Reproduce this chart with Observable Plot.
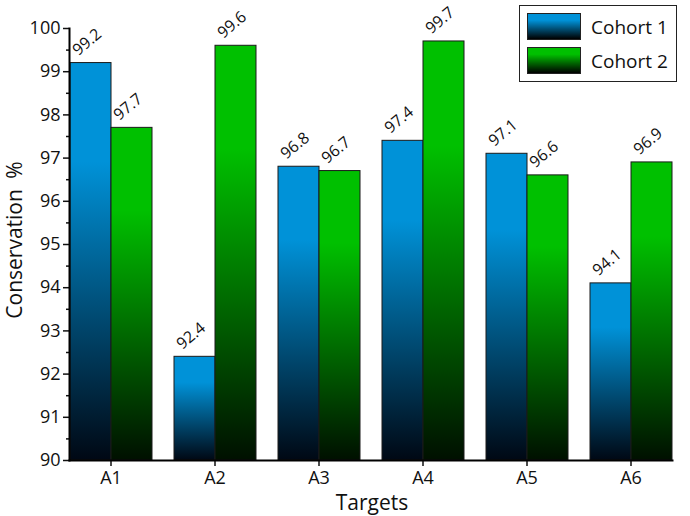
<!DOCTYPE html>
<html>
<head>
<meta charset="utf-8">
<script src="https://cdn.jsdelivr.net/npm/d3@7"></script>
<script src="https://cdn.jsdelivr.net/npm/@observablehq/plot@0.6"></script>
<style>
  html, body { margin: 0; padding: 0; background: #fff; }
  #wrap { position: relative; width: 690px; height: 516px; font-family: "Open Sans", sans-serif; }
  #legend { position: absolute; left: 519px; top: 5px; width: 158px; height: 77px; border: 1.3px solid #222; background: #fff; box-sizing: border-box; }
  .item { position: absolute; left: 7px; display: flex; align-items: center; }
  .sw { width: 54px; height: 27px; border: 1px solid #222; box-sizing: border-box; margin-right: 10px; }
  .lab { font-size: 19px; color: #111; }
</style>
</head>
<body>
<div id="wrap"></div>
<script>
const targets = ["A1", "A2", "A3", "A4", "A5", "A6"];
const cohorts = ["Cohort 1", "Cohort 2"];
const cohort1 = [99.2, 92.4, 96.8, 97.4, 97.1, 94.1];
const cohort2 = [97.7, 99.6, 96.7, 99.7, 96.6, 96.9];
const colors = ["#0092d8", "#00c000"];
const gradIds = ["gradBlue", "gradGreen"];

const data = [];
targets.forEach((t, i) => {
  data.push({target: t, cohort: cohorts[0], value: cohort1[i]});
  data.push({target: t, cohort: cohorts[1], value: cohort2[i]});
});

const chart = Plot.plot({
  width: 690,
  height: 516,
  marginLeft: 57,
  marginRight: 5,
  marginTop: 28,
  marginBottom: 56,
  style: {fontFamily: "Open Sans, sans-serif", fontSize: "17px", color: "#111", background: "#fff"},
  fx: {domain: targets, paddingInner: 0.2, paddingOuter: 0.1, label: null},
  x: {domain: cohorts, padding: 0, axis: null},
  y: {domain: [90, 100], label: null},
  marks: [
    Plot.barY(data, {
      fx: "target", x: "cohort", y1: 90, y2: "value",
      fill: d => d.cohort === cohorts[0] ? `url(#${gradIds[0]})` : `url(#${gradIds[1]})`,
      stroke: "#1a1a1a", strokeWidth: 1
    }),
    Plot.text(data, {
      fx: "target", x: "cohort", y: "value",
      text: d => d.value.toFixed(1),
      rotate: -40, dx: -4, dy: -21, fontSize: 16, fill: "#111"
    }),
    Plot.axisY({ticks: d3.range(90, 101, 1), tickSize: 6, tickPadding: 3, tickFormat: d3.format("d"), label: null, fontSize: 18, strokeWidth: 1.5}),
    Plot.axisY({ticks: d3.range(90.5, 100, 1), tickSize: 3, tickFormat: () => "", label: null, strokeWidth: 1.5}),
    Plot.axisFx({anchor: "bottom", tickSize: 6, tickPadding: 5, label: null, fontSize: 18, strokeWidth: 1.5}),
    Plot.frame({facet: "super", anchor: "bottom", stroke: "#000", strokeWidth: 2}),
    Plot.frame({facet: "super", anchor: "left", stroke: "#000", strokeWidth: 2})
  ]
});

// gradient defs
const svg = d3.select(chart);
const defs = svg.insert("defs", ":first-child");
gradIds.forEach((id, k) => {
  const g = defs.append("linearGradient").attr("id", id)
    .attr("x1", 0).attr("y1", 0).attr("x2", 0).attr("y2", 1);
  g.append("stop").attr("offset", "0").attr("stop-color", colors[k]);
  g.append("stop").attr("offset", "0.25").attr("stop-color", colors[k]);
  g.append("stop").attr("offset", "1").attr("stop-color", k === 0 ? "#000814" : "#001000");
});

// axis titles
svg.append("text").attr("x", 372).attr("y", 510).attr("text-anchor", "middle")
  .attr("font-size", 21).attr("fill", "#111").text("Targets");
svg.append("text").attr("transform", "translate(22,240) rotate(-90)").attr("text-anchor", "middle")
  .attr("font-size", 21).attr("fill", "#111").text("Conservation\u2002%");

const wrap = document.getElementById("wrap");
wrap.appendChild(chart);

const legend = document.createElement("div");
legend.id = "legend";
cohorts.forEach((c, k) => {
  const it = document.createElement("div");
  it.className = "item";
  it.style.top = (k === 0 ? 7 : 41) + "px";
  const sw = document.createElement("div");
  sw.className = "sw";
  sw.style.background = `linear-gradient(to bottom, ${colors[k]} 0%, ${colors[k]} 25%, #000 100%)`;
  const lab = document.createElement("span");
  lab.className = "lab";
  lab.textContent = c;
  it.appendChild(sw); it.appendChild(lab);
  legend.appendChild(it);
});
wrap.appendChild(legend);
</script>
</body>
</html>
